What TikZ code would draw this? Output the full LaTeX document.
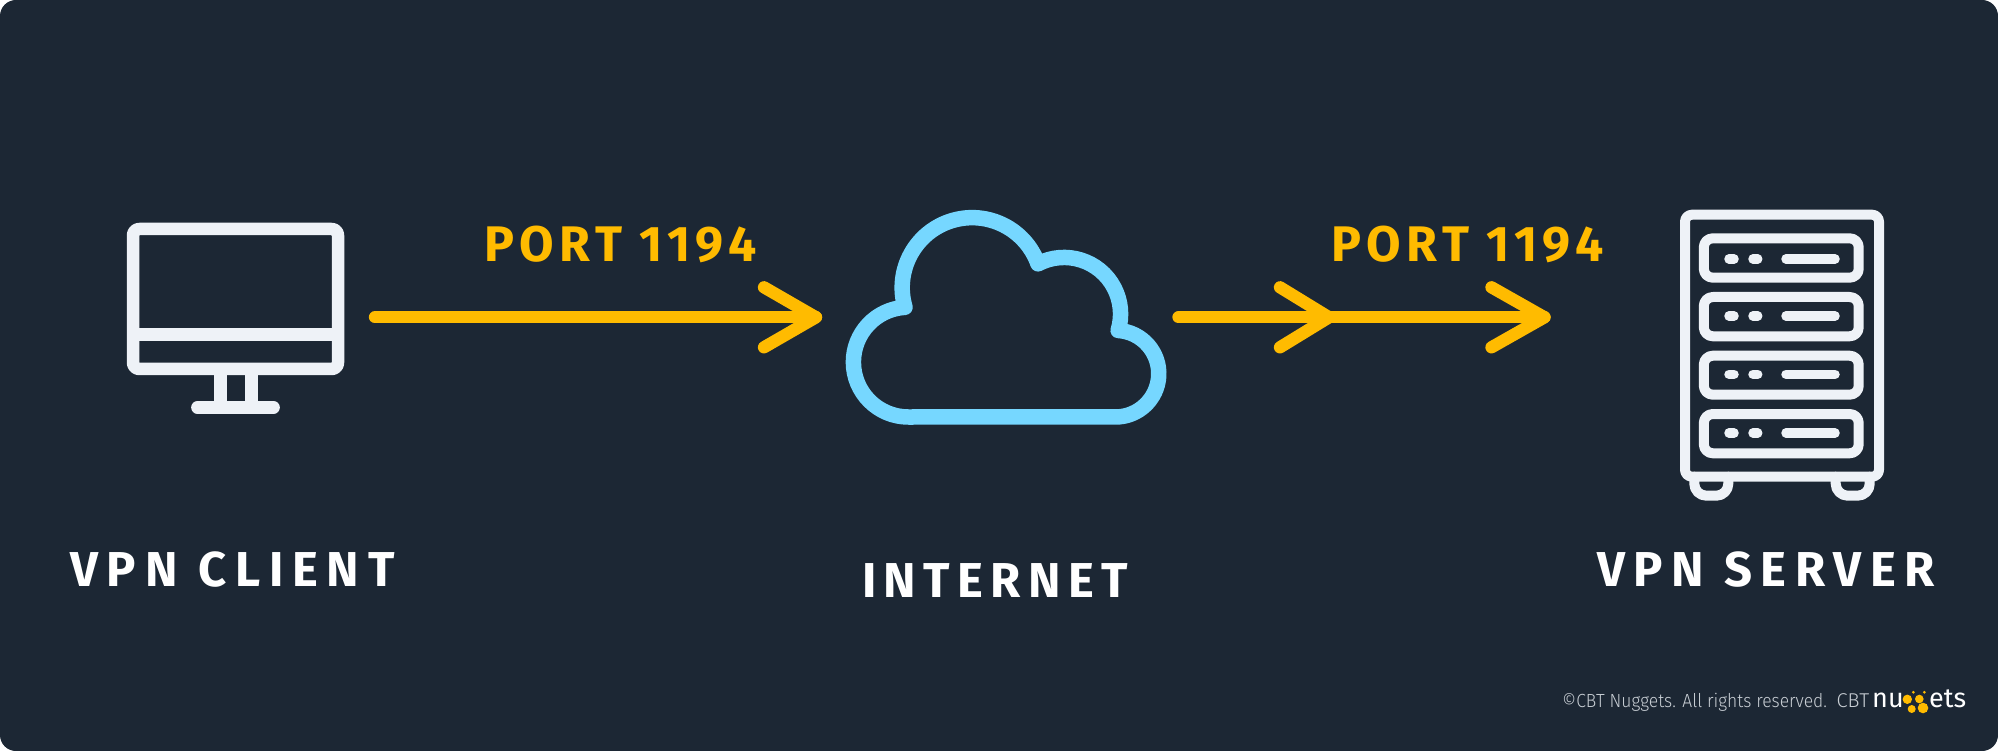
\documentclass[tikz,border=0pt]{standalone}
\usepackage{fontspec}
\setmainfont{Fira Sans}
\newfontfamily\lightfont{Fira Sans Light}
\definecolor{bgnavy}{HTML}{1C2734}
\definecolor{iconwhite}{HTML}{EEF2F7}
\definecolor{cloudblue}{HTML}{76D7FF}
\definecolor{arrowgold}{HTML}{FFBB00}
\tikzset{
  iconline/.style={draw=iconwhite,line width=#1,line join=round,line cap=round},
  cloudline/.style={draw=cloudblue,line width=15.5pt,line join=round},
  flow/.style={draw=arrowgold,line width=12.3pt,line cap=round,line join=round},
  title/.style={anchor=base west,inner sep=0pt,text=white,font={\fontsize{49}{49}\selectfont\bfseries\addfontfeature{LetterSpace=#1}}},
  portlabel/.style={anchor=base west,inner sep=0pt,text=arrowgold,font={\fontsize{50}{50}\selectfont\bfseries\addfontfeature{LetterSpace=11}}},
  finetext/.style={anchor=base west,inner sep=0pt,text=iconwhite!82!bgnavy},
  logotext/.style={anchor=base west,inner sep=0pt,text=white,font={\fontsize{27}{27}\selectfont}},
  pill/.style={iconline=9.5pt},
  unitbox/.style={iconline=10pt,rounded corners=9pt},
  logodot/.style={fill=arrowgold,draw=none}
}
\begin{document}
\begin{tikzpicture}[x=1pt,y=-1pt]
\useasboundingbox (0,0) rectangle (1998,751);
\fill[white] (0,0) rectangle (1998,751);
\fill[bgnavy,rounded corners=16pt] (0,0) rectangle (1998,751);
% monitor
\draw[iconline=12.5pt,rounded corners=6.3pt] (133,229) rectangle (338,369);
\draw[iconline=12.5pt,line cap=butt] (133,334.5) -- (338,334.5);
\draw[iconline=13pt,line cap=butt] (220,369) -- (220,402);
\draw[iconline=12.5pt,line cap=butt] (251.7,369) -- (251.7,402);
\draw[iconline=12.7pt] (197.5,407.4) -- (273.5,407.4);
% cloud
\draw[cloudline] (905,307.3) arc[start angle=163.7,end angle=340.1,radius=70]
  arc[start angle=242.5,end angle=377,radius=56.5]
  arc[start angle=273.5,end angle=450,radius=43.3]
  -- (908.3,417)
  arc[start angle=90,end angle=266.5,radius=54.9] -- cycle;
% server
\draw[iconline=10pt,rounded corners=7pt] (1685,214.7) rectangle (1879,476.7);
\foreach \ya/\yb/\yc in {238.3/277.7/259,297/336.3/316,355.7/394.7/374.3,414/453.3/433}{
  \draw[unitbox] (1703.8,\ya) rectangle (1858.7,\yb);
  \draw[pill] (1729,\yc) -- (1734,\yc);
  \draw[pill] (1753,\yc) -- (1757.7,\yc);
  \draw[pill] (1786,\yc) -- (1835,\yc);
}
\draw[iconline=10pt,rounded corners=12pt] (1694.3,476.7) -- (1694.3,495.7) -- (1728.3,495.7) -- (1728.3,476.7);
\draw[iconline=10pt,rounded corners=12pt] (1835.7,476.7) -- (1835.7,495.7) -- (1869.7,495.7) -- (1869.7,476.7);
% connectors
\coordinate (a1s) at (375,317.3);
\coordinate (a1e) at (816,317.3);
\coordinate (a2s) at (1178.5,317.3);
\coordinate (a2m) at (1329,317.3);
\coordinate (a2e) at (1544.5,317.3);
\draw[flow] (a1s) -- (a1e);
\draw[flow] (a1e) ++(-52,-30) -- (a1e) -- ++(-52,30);
\draw[flow] (a2s) -- (a2e);
\draw[flow] (a2m) ++(-49,-30) -- (a2m) -- ++(-49,30);
\draw[flow] (a2e) ++(-53,-30) -- (a2e) -- ++(-53,30);
% labels
\node[portlabel] (p1) at (484,261.7) {PORT 1194};
\node[portlabel] (p2) at (1331,261.7) {PORT 1194};
\node[title=18] (client) at (70,586) {VPN CLIENT};
\node[title=15] (inet) at (862,597.3) {INTERNET};
\node[title=17.5] (server) at (1597,586) {VPN SERVER};
% footer
\node[finetext,font={\fontsize{19}{19}\selectfont\lightfont\addfontfeature{FakeStretch=0.92}}] (copy) at (1562,707.3) {©CBT Nuggets. All rights reserved.};
\node[finetext,font={\fontsize{20}{20}\selectfont\lightfont}] (cbt) at (1836.5,707.3) {CBT};
\node[logotext] (nu) at (1872,707.3) {nu};
\node[logotext] (ets) at (1929,707.3) {ets};
\fill[logodot] (1907.3,699.3) circle (4.7);
\fill[logodot] (1919.3,699) circle (4.3);
\fill[logodot] (1911.7,709) circle (4);
\fill[logodot] (1923,708) circle (5.3);
\fill[logodot] (1913.3,692.3) circle (1.5);
\fill[logodot] (1924.3,692.3) circle (1.5);
\end{tikzpicture}
\end{document}
